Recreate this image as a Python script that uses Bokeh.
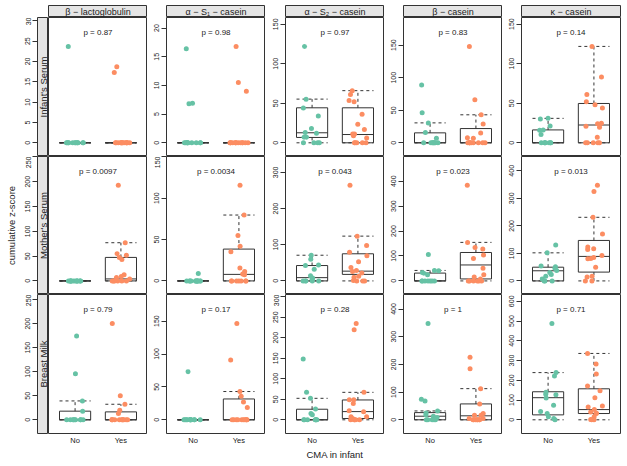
import math
import numpy as np
from bokeh.plotting import figure
from bokeh.layouts import row, column
from bokeh.models import Range1d, FixedTicker, Label, LinearAxis, Spacer
from bokeh.embed import file_html
from bokeh.resources import INLINE

# ---------------- data ----------------
proteins = ["β − lactoglobulin", "α − S₁ − casein", "α − S₂ − casein", "β − casein", "κ − casein"]
sources = ["Infant's Serum", "Mother's Serum", "Breast Milk"]
groups = ["No", "Yes"]

infant_no = [
    [23.7, 0, 0, 0, 0, 0, 0, 0, 0, 0, 0, 0, 0],
    [16.4, 6.9, 6.8, 0, 0, 0, 0, 0, 0, 0, 0, 0, 0],
    [122, 55, 44, 34, 18, 13, 12, 7, 7, 0, 0, 0, 0],
    [88.8, 46, 30.6, 15.8, 7.1, 0, 0, 0, 0, 0, 0, 0, 0],
    [30.9, 30, 21.3, 16.3, 16, 10.4, 0, 0, 0, 0, 0, 0, 0],
]
infant_yes = [
    [18.7, 17.3, 0, 0, 0, 0, 0, 0, 0, 0, 0, 0, 0, 0, 0, 0],
    [16.8, 10.5, 9.0, 0, 0, 0, 0, 0, 0, 0, 0, 0, 0, 0, 0, 0],
    [66, 61, 53.6, 52, 36, 23.6, 17, 11, 11, 9, 6, 0, 0, 0, 0, 0],
    [148, 66, 43, 29, 15, 7.6, 7, 0, 0, 0, 0, 0, 0, 0, 0, 0],
    [121.8, 83, 61, 52, 48, 44, 24.6, 24, 21, 19.6, 7, 0, 0, 0, 0, 0],
]
mother_no = [
    [0, 0, 0, 0, 0, 0, 0, 0, 0, 0, 0, 0, 0],
    [9.1, 0, 0, 0, 0, 0, 0, 0, 0, 0, 0, 0, 0],
    [71, 60, 44, 42.5, 32.5, 14.5, 8, 3.6, 0, 0, 0, 0, 0],
    [106, 42, 40.6, 34, 31, 25, 0, 0, 0, 0, 0, 0, 0],
    [130.5, 102, 54.6, 51, 46, 38, 30.8, 23.7, 16.6, 7, 0, 0, 0],
]
mother_yes = [
    [193, 77, 55, 52, 47, 43, 12.5, 9, 7, 4, 0, 0, 0, 0, 0, 0],
    [115.8, 79.7, 55, 42, 35.3, 15.5, 11.5, 8.3, 7.5, 0, 0, 0, 0, 0, 0, 0],
    [264.6, 123.8, 97.6, 79.5, 69.6, 53, 37, 29, 26, 21.7, 12.6, 10, 1, 0, 0, 0],
    [384, 154.6, 133.6, 128, 103.5, 90.4, 51, 25, 15.7, 8, 0, 0, 0, 0, 0, 0],
    [347.6, 325, 231, 170.8, 123, 117, 113.9, 92.5, 85, 81.8, 80.6, 49.8, 16.6, 14.2, 0, 0],
]
milk_no = [
    [174.5, 96, 39.3, 18, 0, 0, 0, 0, 0, 0, 0, 0, 0],
    [73, 0, 0, 0, 0, 0, 0, 0, 0, 0, 0, 0, 0],
    [148.5, 67, 52.4, 26.6, 15.3, 12.1, 0, 0, 0, 0, 0, 0, 0],
    [348, 74, 68, 32, 25, 18, 13, 8, 0, 0, 0, 0, 0],
    [488, 239, 222, 140, 130, 127, 110, 73.6, 41.8, 31.8, 15, 6.7, 0],
]
milk_yes = [
    [200.7, 50.3, 32.4, 20, 13, 0, 0, 0, 0, 0, 0, 0, 0, 0, 0, 0],
    [146.5, 91, 43, 35.8, 27, 18.6, 0, 0, 0, 0, 0, 0, 0, 0, 0, 0],
    [235, 219.5, 67, 49.2, 49, 39.5, 21.8, 19.4, 7.3, 7.3, 3.2, 0, 0, 0, 0, 0],
    [226, 184, 112.5, 57.4, 22.7, 16.8, 16.8, 4.8, 4.8, 0, 0, 0, 0, 0, 0, 0],
    [336, 283, 232.5, 170.6, 147, 112, 70, 65, 52, 40, 33.4, 31.8, 15, 1.7, 0, 0],
]

# box statistics: [lower whisker, q1, median, q3, upper whisker]
infant_box_no = [[0, 0, 0, 0, 0], [0, 0, 0, 0, 0], [0, 6.8, 12.7, 44.3, 55.3], [0, 0, 0, 15.3, 30.6], [0, 0, 0, 16.3, 30.9]]
infant_box_yes = [[0, 0, 0, 0, 0], [0, 0, 0, 0, 0], [0, 0, 10.5, 44.3, 66], [0, 0, 0, 21.9, 43], [0, 0, 22.5, 49.7, 121.8]]
mother_box_no = [[0, 0, 0, 0, 0], [0, 0, 0, 0, 0], [0, 0, 9, 42.5, 71], [0, 0, 0, 31.4, 42], [0, 0, 36.8, 49.8, 102]]
mother_box_yes = [[0, 0, 4, 47.4, 77], [0, 0, 7.9, 38.5, 79.7], [0, 18, 27, 75, 123.8], [0, 7.9, 64, 114, 154.6], [0, 32, 89, 147, 231]]
milk_box_no = [[0, 0, 0, 18, 39.3], [0, 0, 0, 0, 0], [0, 0, 0, 25.8, 52.4], [0, 0, 13, 26, 32], [0, 25, 112, 142, 239]]
milk_box_yes = [[0, 0, 0, 16.5, 32.4], [0, 0, 0, 31.7, 43], [0, 3.2, 20, 48.4, 67], [0, 0, 14.4, 57.4, 112.5], [0, 31.8, 51.8, 157, 336]]

p_infant = ["0.87", "0.98", "0.97", "0.83", "0.14"]
p_mother = ["0.0097", "0.0034", "0.043", "0.023", "0.013"]
p_milk = ["0.79", "0.17", "0.28", "1", "0.71"]

tick_step_infant = [5, 5, 50, 50, 50]
tick_step_mother = [50, 50, 100, 100, 100]
tick_step_milk = [50, 50, 50, 100, 100]

x_title = "CMA in infant"
y_title = "cumulative z-score"

# ---------------- style / layout ----------------
FONT = "Liberation Sans"
LINE = "#333333"
TXT = "#222222"
STRIP = "#e5e5e5"
GREEN = "#66c2a5"
ORANGE = "#fc8d62"
FW = 99
FHS = [139, 138, 139]
HH = 12
TOP = 5
GAPS = [0, 19, 20, 19, 19]
BOTTOM = 30
YLAB_W = 20
X0, X1 = 0.42, 2.58
HALF = 0.34

rng = np.random.default_rng(11)


def style_yaxis(ax, standoff):
    ax.axis_line_color = None
    ax.major_tick_out = 5
    ax.major_tick_in = 0
    ax.major_tick_line_color = LINE
    ax.minor_tick_line_color = None
    ax.major_label_orientation = "vertical"
    ax.major_label_text_font = FONT
    ax.major_label_text_font_size = "7px"
    ax.major_label_text_color = TXT
    ax.major_label_standoff = standoff


def blank_fig(fw, fh, xr, yr, ml=0, mr=0, mt=0, mb=0):
    p = figure(frame_width=fw, frame_height=fh, x_range=xr, y_range=yr,
               x_axis_location=None, y_axis_location=None,
               min_border_left=ml, min_border_right=mr, min_border_top=mt, min_border_bottom=mb,
               toolbar_location=None, output_backend="svg")
    p.grid.visible = False
    p.outline_line_color = LINE
    p.outline_line_width = 1
    p.border_fill_color = "white"
    p.background_fill_color = "white"
    return p


def make_panel(no_vals, yes_vals, box_no, box_yes, pval, step, ci, fh, bottom):
    M = max(no_vals + yes_vals)
    yr = Range1d(-0.142 * M, 1.30 * M)
    p = blank_fig(FW, fh, Range1d(X0, X1), yr,
                  ml=GAPS[ci], mr=1 if ci == 4 else 0,
                  mb=BOTTOM if bottom else 0)
    ticks = list(range(0, int(1.3 * M) + 1, step))
    if ci > 0:
        ax = LinearAxis(ticker=FixedTicker(ticks=ticks))
        style_yaxis(ax, 2)
        p.add_layout(ax, "left")
    for gi, (vals, box, col) in enumerate([(no_vals, box_no, GREEN), (yes_vals, box_yes, ORANGE)]):
        xc = gi + 1
        lo, q1, med, q3, hi = box
        p.quad(left=[xc - HALF], right=[xc + HALF], bottom=[q1], top=[q3],
               fill_color=None, line_color=LINE, line_width=1)
        p.segment(x0=[xc - HALF], x1=[xc + HALF], y0=[med], y1=[med], line_color=LINE, line_width=1)
        p.segment(x0=[xc, xc], x1=[xc, xc], y0=[q3, q1], y1=[hi, lo],
                  line_color=LINE, line_width=1, line_dash="3 3")
        p.segment(x0=[xc - HALF, xc - HALF], x1=[xc + HALF, xc + HALF], y0=[hi, lo], y1=[hi, lo],
                  line_color=LINE, line_width=1, line_dash="3 3")
        xs = xc + rng.uniform(-0.2, 0.2, len(vals))
        p.scatter(x=xs, y=vals, size=5, fill_color=col, line_color=None, fill_alpha=1.0)
    ytxt = yr.end - 15.0 / fh * (yr.end - yr.start)
    p.add_layout(Label(x=1.5, y=ytxt, text="p = " + pval, text_align="center",
                       text_baseline="middle", text_font=FONT, text_font_size="8px",
                       text_color=TXT))
    if bottom:
        xax = LinearAxis(ticker=FixedTicker(ticks=[1, 2]),
                         major_label_overrides={1: groups[0], 2: groups[1]})
        xax.axis_line_color = None
        xax.major_tick_line_color = None
        xax.minor_tick_line_color = None
        xax.major_tick_out = 0
        xax.major_tick_in = 0
        xax.major_label_standoff = 2
        xax.major_label_text_font = FONT
        xax.major_label_text_font_size = "7.5px"
        xax.major_label_text_color = TXT
        if ci == 2:
            xax.axis_label = x_title
            xax.axis_label_text_font = FONT
            xax.axis_label_text_font_size = "9.5px"
            xax.axis_label_text_font_style = "normal"
            xax.axis_label_text_color = TXT
            xax.axis_label_standoff = 1
        p.add_layout(xax, "below")
    return p, yr, ticks


def make_strip(yr, ticks, label, fh, bottom):
    s = blank_fig(11, fh, Range1d(0, 1), yr, ml=17, mb=BOTTOM if bottom else 0)
    s.background_fill_color = STRIP
    ax = LinearAxis(ticker=FixedTicker(ticks=ticks))
    style_yaxis(ax, 2)
    s.add_layout(ax, "left")
    s.add_layout(Label(x=0.5, y=(yr.start + yr.end) / 2, text=label, angle=math.pi / 2,
                       text_align="center", text_baseline="middle", text_font=FONT,
                       text_font_size="9.5px", text_color=TXT))
    return s


# header strips
hdr_figs = []
for ci, name in enumerate(proteins):
    h = blank_fig(FW, HH, Range1d(0, 1), Range1d(0, 1),
                  ml=GAPS[ci], mr=1 if ci == 4 else 0)
    h.background_fill_color = STRIP
    h.add_layout(Label(x=0.5, y=0.5, text=name, text_align="center", text_baseline="middle",
                       text_font=FONT, text_font_size="9px", text_color=TXT))
    hdr_figs.append(h)
hdr_row = row(Spacer(width=28, height=HH), *hdr_figs)

all_no = [infant_no, mother_no, milk_no]
all_yes = [infant_yes, mother_yes, milk_yes]
all_box_no = [infant_box_no, mother_box_no, milk_box_no]
all_box_yes = [infant_box_yes, mother_box_yes, milk_box_yes]
all_p = [p_infant, p_mother, p_milk]
all_step = [tick_step_infant, tick_step_mother, tick_step_milk]

grid_rows = []
for ri in range(3):
    bottom = (ri == 2)
    panels = []
    first = None
    for ci in range(5):
        p, yr, ticks = make_panel(all_no[ri][ci], all_yes[ri][ci], all_box_no[ri][ci],
                                  all_box_yes[ri][ci], all_p[ri][ci], all_step[ri][ci], ci,
                                  FHS[ri], bottom)
        if ci == 0:
            first = (yr, ticks)
        panels.append(p)
    strip = make_strip(first[0], first[1], sources[ri], FHS[ri], bottom)
    grid_rows.append(row(strip, *panels))

main = column(Spacer(width=10, height=TOP), hdr_row, *grid_rows)

ylab = figure(width=YLAB_W, height=sum(FHS), x_range=Range1d(0, 1), y_range=Range1d(0, 1),
              x_axis_location=None, y_axis_location=None, min_border=0,
              toolbar_location=None, output_backend="svg")
ylab.grid.visible = False
ylab.outline_line_color = None
ylab.add_layout(Label(x=0.525, y=0.5, text=y_title, angle=math.pi / 2, text_align="center",
                      text_baseline="middle", text_font=FONT, text_font_size="9.5px",
                      text_color=TXT))
left = column(Spacer(width=YLAB_W, height=TOP + HH), ylab)

layout = row(left, main)

open("out.html", "w").write(file_html(layout, INLINE))
